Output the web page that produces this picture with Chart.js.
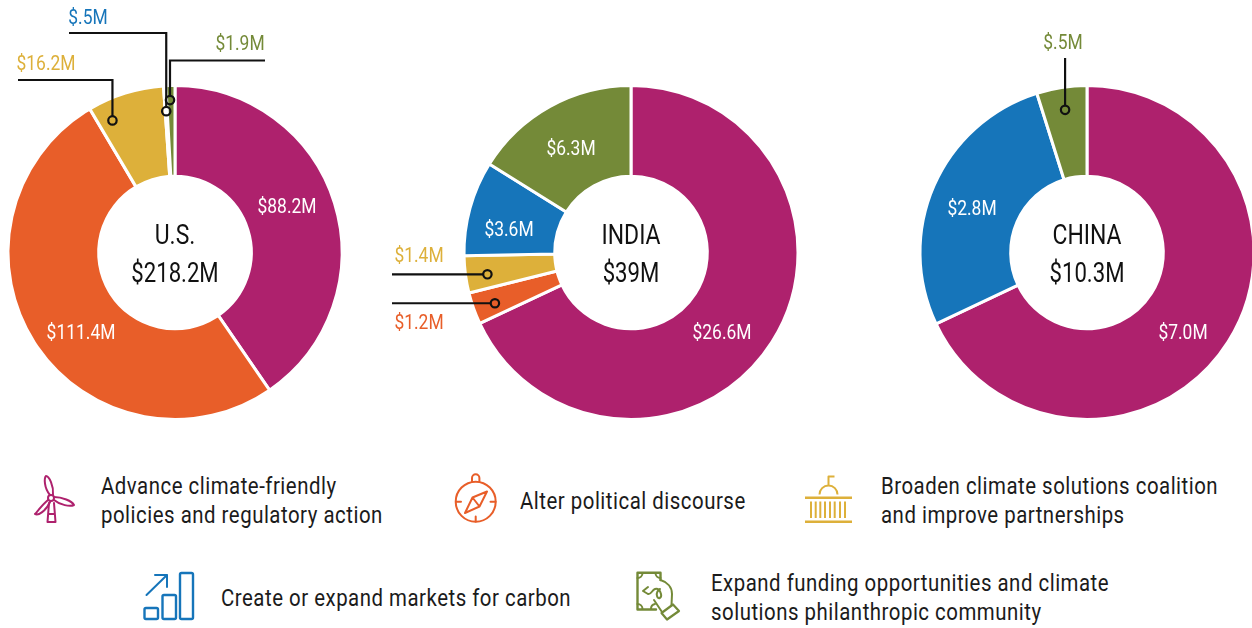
<!DOCTYPE html>
<html><head><meta charset="utf-8">
<script src="https://cdn.jsdelivr.net/npm/chart.js@4"></script>
<style>
html,body{margin:0;padding:0;background:#fff;width:1252px;height:628px;overflow:hidden}
canvas{position:absolute;top:0}
.lg{position:absolute;font:24px/29px "Roboto",sans-serif;color:#1b1b1b;white-space:pre;letter-spacing:.6px;transform:scaleX(.85);transform-origin:0 0}
svg{position:absolute;left:0;top:0}
</style></head><body>
<svg width="1252" height="628" fill="none" stroke-width="2" stroke-linecap="round" stroke-linejoin="round">
 <g stroke="#AE216D">
  <circle cx="51" cy="498" r="3"/>
  <path d="M50,495C44,488 44,478 46,476C49,476 54,486 53,495"/>
  <path d="M54,497C62,497 72,501 74,505C70,507 60,505 54,500"/>
  <path d="M48,500C42,505 37,512 35,514C38,516 46,511 50,502"/>
  <path d="M49,503L47.5,522H55.5L54,503M48.5,514H54.5"/>
 </g>
 <g stroke="#E85E29">
  <circle cx="475.7" cy="501.7" r="20"/>
  <path d="M472,481.5V478a3.7,3.7 0 0 1 7.4,0V481.5"/>
  <path d="M456,501.7h5M490.5,501.7h5M475.7,516.5v5"/>
  <path d="M487,491.5L479.5,506.5L465,513L472.5,497.5ZM472.5,497.5L479.5,506.5"/>
 </g>
 <g stroke="#DDB03A" stroke-linecap="butt">
  <path stroke-width="2.4" d="M805,497.7H852M805,521.7H852"/>
  <path d="M811,501.5V518M815.7,501.5V518M820.3,501.5V518M825,501.5V518M830,501.5V518M834.7,501.5V518M840,501.5V518M845,501.5V518"/>
  <path d="M819.5,494.5a9,9 0 0 1 18,0M828.5,485.5V476.5H834.5"/>
 </g>
 <g stroke="#1675BA">
  <rect x="144.5" y="608" width="13.5" height="11" rx="1.5" stroke-width="2.4"/>
  <rect x="162.5" y="595" width="13.5" height="24" rx="1.5" stroke-width="2.4"/>
  <rect x="180" y="573" width="13" height="46" rx="1.5" stroke-width="2.4"/>
  <path d="M146.500,595L167,575M155,575H167V587"/>
 </g>
 <g stroke="#748A38">
  <path d="M660.500,580V572.700H637.500V609.500H656" stroke-width="2.4"/>
  <path d="M637.500,578a5,5 0 0 0 5,-5M655.500,573a5,5 0 0 0 5,5M637.500,604a5,5 0 0 1 5,5M651,609a5,5 0 0 1 4,-5"/>
  <path d="M660.500,580C667,582 672,587 672,594L671.500,605M654,600L662,612"/>
  <path d="M643,591L648,587M643,591L648,594C651,595 652,590 655,589C658,588 660,590 661,594C662,598 658,600 657,596C656,593 658,590 660,589"/>
  <path d="M661.500,613L673,604.500L679,611L667,619.500Z" stroke-width="2.2"/>
 </g>
</svg>
<div id="legend"></div>
<canvas id="us" width="380" height="440" style="left:0"></canvas>
<canvas id="india" width="520" height="440" style="left:380px"></canvas>
<canvas id="china" width="360" height="440" style="left:900px"></canvas>
<script>
const categories = ["Advance climate-friendly\npolicies and regulatory action","Alter political discourse","Broaden climate solutions coalition\nand improve partnerships","Create or expand markets for carbon","Expand funding opportunities and climate\nsolutions philanthropic community"];
const palette = ["#AE216D","#E85E29","#DDB03A","#1675BA","#748A38"];

const usValues = [88.2,111.4,16.2,0.5,1.9];
const usLabels = ["$88.2M","$111.4M","$16.2M","$.5M","$1.9M"];
const indiaValues = [26.6,1.2,1.4,3.6,6.3];
const indiaLabels = ["$26.6M","$1.2M","$1.4M","$3.6M","$6.3M"];
const chinaValues = [7.0,2.8,0.5];
const chinaLabels = ["$7.0M","$2.8M","$.5M"];
const chinaCategoryIndex = [0,3,4];
const titles = ["U.S.","INDIA","CHINA"];
const totals = ["$218.2M","$39M","$10.3M"];

const FONT = '"Roboto",sans-serif';
const R0 = 168.5;

const legendPos = [[101,472],[520,487],[881,472],[221,584],[711,569]];
const legendEl = document.getElementById('legend');
categories.forEach((c,i)=>{
  const d=document.createElement('div');d.className='lg';d.textContent=c;
  d.style.left=legendPos[i][0]+'px';d.style.top=legendPos[i][1]+'px';legendEl.appendChild(d);
});

function narrowText(ctx,t,x,y,sx){
  ctx.save();ctx.translate(x,y);ctx.scale(sx,1);ctx.fillText(t,0,0);ctx.restore();
}
const notes = {
  id:'notes',
  afterDatasetsDraw(chart,_,o){
    const {ctx}=chart, arcs=chart.getDatasetMeta(0).data;
    ctx.save();
    ctx.translate(-o.left,0);
    const cx=arcs[0].x+o.left, cy=arcs[0].y;
    ctx.strokeStyle='#111';ctx.lineWidth=2.2;
    o.leaders.forEach(l=>{
      const a=arcs[l.slice];
      const ang=a.startAngle+l.f*(a.endAngle-a.startAngle);
      const r=a.innerRadius+l.g*(a.outerRadius-a.innerRadius);
      const x=cx+r*Math.cos(ang), y=cy+r*Math.sin(ang);
      const sx=l.x??x, sy=l.y??y;
      const rd=4.2;
      ctx.beginPath();ctx.moveTo(sx,sy);
      if(l.y==null){ctx.lineTo(x-rd,y);}
      else{ctx.lineTo(x,sy);ctx.lineTo(x,y-rd);}
      ctx.stroke();
      ctx.beginPath();ctx.arc(x,y,rd,0,Math.PI*2);ctx.stroke();
    });
    ctx.textAlign='center';ctx.textBaseline='middle';
    ctx.font='21px '+FONT;
    o.labels.forEach((t,i)=>{
      const p=o.labelPos[i];
      ctx.fillStyle=p[2]?chart.data.datasets[0].backgroundColor[i]:'#fff';
      narrowText(ctx,t,p[0],p[1],.83);
    });
    ctx.fillStyle='#111';ctx.font='27px '+FONT;
    narrowText(ctx,o.title,cx,237,.85);
    narrowText(ctx,o.total,cx,275,.82);
    ctx.restore();
  }
};

function donut(id,left,width,cx,values,labels,colors,title,total,labelPos,leaders){
  new Chart(document.getElementById(id),{
    type:'doughnut',
    plugins:[notes],
    data:{labels:colors.map(c=>categories[palette.indexOf(c)]),
      datasets:[{data:values,backgroundColor:colors,borderColor:'#fff',borderWidth:3}]},
    options:{responsive:false,animation:false,cutout:'45.7%',
      layout:{padding:{left:cx-left-R0,right:width-(cx-left)-R0,top:252.5-R0,bottom:440-252.5-R0}},
      plugins:{legend:{display:false},tooltip:{enabled:false},
        notes:{left,labels,labelPos,leaders,title,total}}}
  });
}
donut('us',0,380,175,usValues,usLabels,palette,titles[0],totals[0],
  [[287,208],[81,334],[46,65,1],[88,19,1],[240,45,1]],
  [{slice:2,f:.2,g:.77,x:18,y:80},{slice:3,f:.5,g:.72,x:69,y:33},{slice:4,f:.4,g:.84,x:265,y:60.5}]);
donut('india',380,520,631,indiaValues,indiaLabels,palette,titles[1],totals[1],
  [[722,334],[419,324,1],[419,257,1],[509,231],[571,150]],
  [{slice:2,f:.42,g:.76,x:392},{slice:1,f:.42,g:.76,x:392}]);
donut('china',900,360,1087,chinaValues,chinaLabels,chinaCategoryIndex.map(i=>palette[i]),titles[2],totals[2],
  [[1183,334],[972,210],[1063,44,1]],
  [{slice:2,f:.5,g:.75,y:58}]);
</script>
</body></html>
